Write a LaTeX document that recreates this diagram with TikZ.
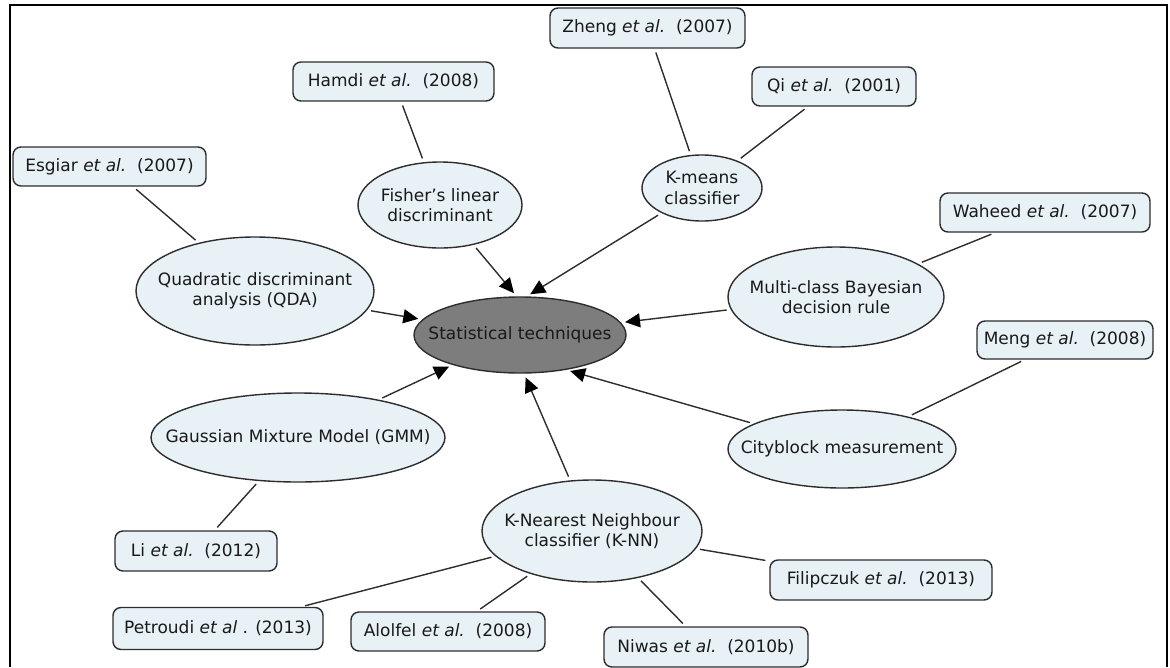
\documentclass[tikz,border=0pt]{standalone}
\usepackage{fontspec}
\setmainfont{DejaVu Sans}
\usetikzlibrary{arrows.meta,shapes.geometric}
\definecolor{nodefill}{RGB}{232,241,245}
\definecolor{hubfill}{RGB}{125,125,125}
\definecolor{edgecol}{RGB}{45,45,45}
\begin{document}
\begin{tikzpicture}[x=1pt,y=-1pt,
  every node/.style={font=\fontsize{17}{20.5}\selectfont, text=black!90},
  oval/.style={ellipse, draw=edgecol, line width=1.4pt, fill=nodefill, inner sep=0pt},
  lbl/.style={align=center, inner sep=0pt},
  ref/.style={rectangle, rounded corners=8pt, draw=edgecol, line width=1.4pt,
    fill=nodefill, inner sep=0pt},
  link/.style={draw=edgecol, line width=1.4pt, shorten <=4pt, shorten >=4pt},
  feed/.style={link, -{Triangle[length=15pt,width=14pt,color=black]}}
]
\useasboundingbox (0,0) rectangle (1170,667);

% open frame
\draw[line width=2.4pt] (10,667) -- (10,5) -- (1167,5) -- (1167,667);

% central concept
\node[oval, fill=hubfill, minimum width=212pt, minimum height=76pt,
  label={[lbl]center:Statistical techniques}] (stat) at (520,335) {};

% techniques
\node[oval, minimum width=164pt, minimum height=86pt,
  label={[lbl]center:{Fisher’s linear\\discriminant}}] (fisher) at (440,205) {};
\node[oval, minimum width=120pt, minimum height=66pt,
  label={[lbl]center:{K-means\\classifier}}] (kmeans) at (702,188) {};
\node[oval, minimum width=238pt, minimum height=108pt,
  label={[lbl]center:{Quadratic discriminant\\analysis (QDA)}}] (qda) at (255,291) {};
\node[oval, minimum width=216pt, minimum height=100pt,
  label={[lbl]center:{Multi-class Bayesian\\decision rule}}] (multi) at (836,297) {};
\node[oval, minimum width=294pt, minimum height=89pt,
  label={[lbl]center:Gaussian Mixture Model (GMM)}] (gmm) at (298,437.5) {};
\node[oval, minimum width=228pt, minimum height=78pt,
  label={[lbl]center:Cityblock measurement}] (city) at (842,449) {};
\node[oval, minimum width=220pt, minimum height=102pt,
  label={[lbl]center:{K-Nearest Neighbour\\classifier (K-NN)}}] (knn) at (592,531) {};

% references
\node[ref, minimum width=195pt, minimum height=40pt] (zheng) at (647.5,28) {Zheng \textit{et al.}\ \ (2007)};
\node[ref, minimum width=201pt, minimum height=39pt] (hamdi) at (393.5,81.5) {Hamdi \textit{et al.}\ \ (2008)};
\node[ref, minimum width=164pt, minimum height=39pt] (qi) at (834,86.5) {Qi \textit{et al.}\ \ (2001)};
\node[ref, minimum width=193pt, minimum height=39pt] (esgiar) at (109.5,166.5) {Esgiar \textit{et al.}\ \ (2007)};
\node[ref, minimum width=210pt, minimum height=39pt] (waheed) at (1045,212.5) {Waheed \textit{et al.}\ \ (2007)};
\node[ref, minimum width=176pt, minimum height=38pt] (meng) at (1065,340) {Meng \textit{et al.}\ \ (2008)};
\node[ref, minimum width=162pt, minimum height=40pt] (li) at (196,551) {Li \textit{et al.}\ \ (2012)};
\node[ref, minimum width=210pt, minimum height=42pt] (petroudi) at (218,628.5) {Petroudi \textit{et al} . (2013)};
\node[ref, minimum width=194pt, minimum height=39pt] (alolfel) at (448,631.5) {Alolfel \textit{et al.}\ \ (2008)};
\node[ref, minimum width=204pt, minimum height=40pt] (niwas) at (706,647) {Niwas \textit{et al.}\ \ (2010b)};
\node[ref, minimum width=222pt, minimum height=40pt] (filip) at (881,580) {Filipczuk \textit{et al.}\ \ (2013)};

% references to techniques
\draw[link] (esgiar) -- (qda);
\draw[link] (hamdi) -- (fisher);
\draw[link] (zheng) -- (kmeans);
\draw[link] (qi) -- (kmeans);
\draw[link] (waheed) -- (multi);
\draw[link] (meng) -- (city);
\draw[link] (li) -- (gmm);
\draw[link] (petroudi) -- (knn);
\draw[link] (alolfel) -- (knn);
\draw[link] (niwas) -- (knn);
\draw[link] (filip) -- (knn);

% techniques to the central concept
\draw[feed] (fisher) -- (stat.95);
\draw[feed] (kmeans) -- (stat.80);
\draw[feed] (qda) -- (stat.171);
\draw[feed] (gmm) -- (stat.204);
\draw[feed] (multi) -- (stat.7);
\draw[feed] (city) -- (stat.-37);
\draw[feed] (knn) -- (stat.-84);
\end{tikzpicture}
\end{document}
